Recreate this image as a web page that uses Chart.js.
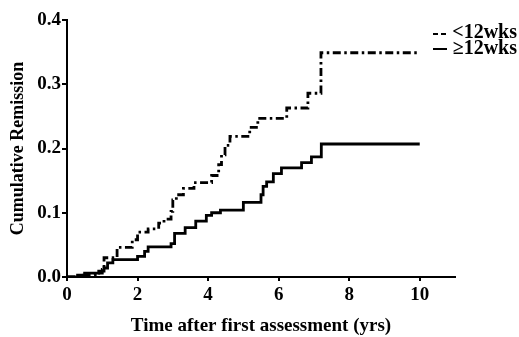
<!DOCTYPE html>
<html>
<head>
<meta charset="utf-8">
<script src="https://cdn.jsdelivr.net/npm/chart.js@4"></script>
<style>
  html, body { margin: 0; padding: 0; background: #fff; }
</style>
</head>
<body>
<canvas id="kmChart" width="519" height="337"></canvas>
<script>
const seriesNames = ["<12wks", "\u226512wks"];

// time (yrs) and cumulative remission after each step
const earlyTimes = [0, 0.4, 0.8, 1.0, 1.05, 1.42, 1.85, 2.0, 2.3, 2.6, 2.75, 2.95, 3.0, 3.1, 3.3, 3.6, 4.1, 4.3, 4.38, 4.48, 4.62, 5.18, 5.41, 6.23, 6.83, 7.2, 10];
const earlyValues = [0, 0.003, 0.006, 0.012, 0.03, 0.046, 0.058, 0.07, 0.075, 0.084, 0.09, 0.102, 0.12, 0.128, 0.138, 0.147, 0.158, 0.175, 0.19, 0.205, 0.219, 0.233, 0.247, 0.263, 0.286, 0.349, 0.349];

const lateTimes = [0, 0.3, 0.5, 0.9, 1.05, 1.15, 1.3, 2.0, 2.2, 2.3, 2.95, 3.05, 3.35, 3.65, 3.95, 4.1, 4.35, 5.0, 5.5, 5.56, 5.66, 5.85, 6.08, 6.65, 6.93, 7.21, 10];
const lateValues = [0, 0.003, 0.006, 0.009, 0.014, 0.022, 0.027, 0.032, 0.04, 0.047, 0.052, 0.068, 0.077, 0.087, 0.096, 0.1, 0.104, 0.116, 0.128, 0.141, 0.148, 0.161, 0.17, 0.178, 0.187, 0.207, 0.207];

const xTicks = [0, 2, 4, 6, 8, 10];
const yTicks = [0, 0.1, 0.2, 0.3, 0.4];

const serif = "'Liberation Serif', 'Times New Roman', serif";

// legend drawn by hand, top right like the original
const legendPlugin = {
  id: "kmLegend",
  afterDraw(chart) {
    const ctx = chart.ctx;
    ctx.save();
    ctx.font = "bold 20px " + serif;
    ctx.fillStyle = "#000";
    ctx.textAlign = "right";
    ctx.textBaseline = "alphabetic";
    ctx.fillText(seriesNames[0], 517, 38);
    ctx.fillText(seriesNames[1], 517, 54);
    ctx.strokeStyle = "#000";
    ctx.lineWidth = 2;
    ctx.setLineDash([5, 3]);
    ctx.beginPath();
    ctx.moveTo(433, 34);
    ctx.lineTo(447, 34);
    ctx.stroke();
    ctx.setLineDash([]);
    ctx.beginPath();
    ctx.moveTo(433, 49);
    ctx.lineTo(447, 49);
    ctx.stroke();
    ctx.restore();
  }
};

const toPoints = (xs, ys) => xs.map((x, i) => ({ x: x, y: ys[i] }));

new Chart(document.getElementById("kmChart"), {
  type: "line",
  data: {
    datasets: [
      {
        label: seriesNames[0],
        data: toPoints(earlyTimes, earlyValues),
        borderColor: "#000",
        borderWidth: 2.8,
        borderDash: [8, 3.5, 2.5, 3.5],
        stepped: "before",
        pointRadius: 0,
        fill: false,
      },
      {
        label: seriesNames[1],
        data: toPoints(lateTimes, lateValues),
        borderColor: "#000",
        borderWidth: 2.8,
        stepped: "before",
        pointRadius: 0,
        fill: false,
      },
    ],
  },
  options: {
    responsive: false,
    animation: false,
    layout: { padding: { left: 8, right: 64, top: 20, bottom: 0 } },
    plugins: {
      legend: { display: false },
      tooltip: { enabled: false },
    },
    scales: {
      x: {
        type: "linear",
        min: 0,
        max: 11,
        afterBuildTicks: (s) => { s.ticks = xTicks.map((v) => ({ value: v })); },
        afterFit: (s) => { s.height = 60; },
        ticks: {
          color: "#000",
          padding: 3,
          font: { family: serif, size: 19, weight: "bold" },
          callback: (v) => String(v),
        },
        grid: { drawOnChartArea: false, tickLength: 4, color: "#000", lineWidth: 2 },
        border: { color: "#000", width: 2 },
        title: {
          display: true,
          text: "Time after first assessment (yrs)",
          color: "#000",
          padding: { top: 0, bottom: 0 },
          font: { family: serif, size: 19, weight: "bold" },
        },
      },
      y: {
        min: 0,
        max: 0.4,
        afterBuildTicks: (s) => { s.ticks = yTicks.map((v) => ({ value: v })); },
        afterFit: (s) => { s.width = 59; },
        ticks: {
          color: "#000",
          padding: 1,
          font: { family: serif, size: 19, weight: "bold" },
          callback: (v) => Number(v).toFixed(1),
        },
        grid: { drawOnChartArea: false, tickLength: 5, color: "#000", lineWidth: 2 },
        border: { color: "#000", width: 2 },
        title: {
          display: true,
          text: "Cumulative Remission",
          color: "#000",
          padding: { top: 0, bottom: 0 },
          font: { family: serif, size: 18, weight: "bold" },
        },
      },
    },
  },
  plugins: [legendPlugin],
});
</script>
</body>
</html>
